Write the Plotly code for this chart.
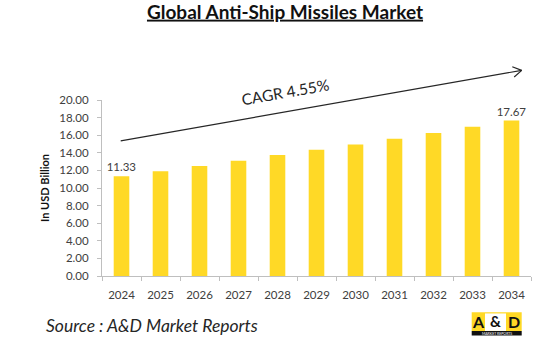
import plotly.graph_objects as go

years = ["2024", "2025", "2026", "2027", "2028", "2029", "2030", "2031", "2032", "2033", "2034"]
values = [11.33, 11.9, 12.5, 13.1, 13.75, 14.35, 14.95, 15.6, 16.25, 16.95, 17.67]
labels = ["11.33", "", "", "", "", "", "", "", "", "", "17.67"]
y_ticks = [0, 2, 4, 6, 8, 10, 12, 14, 16, 18, 20]
y_tick_text = ["%.2f" % v for v in y_ticks]

W, H = 550, 355
PL, PR, PT, PB = 102, 531, 99.7, 276   # plot area in pixels
L, R, T, B = PL, W - PR, PT, H - PB
PW, PH = W - L - R, H - T - B

def px(x):
    return (x - L) / PW

def py(y):
    return (H - B - y) / PH

FONT = "Lato"
AXIS_COL = "#bfbfbf"
TXT = "#404040"

fig = go.Figure(go.Bar(
    x=years, y=values, text=labels, textposition="outside", constraintext="none",
    textfont=dict(family=FONT, size=11.5, color=TXT),
    marker=dict(color="#FFD926", line=dict(width=0)),
    cliponaxis=False,
))

shapes = []
# CAGR arrow
x0, y0, x1, y1 = 120.7, 140.7, 521.7, 70.0
shapes.append(dict(type="line", xref="paper", yref="paper", x0=px(x0), y0=py(y0), x1=px(x1), y1=py(y1),
                   line=dict(color="#262626", width=1.2)))
for ax_, ay_ in [(512.3, 66.4), (514.2, 76.6)]:
    shapes.append(dict(type="line", xref="paper", yref="paper", x0=px(ax_), y0=py(ay_), x1=px(x1), y1=py(y1),
                       line=dict(color="#262626", width=1.2)))
# logo
shapes.append(dict(type="rect", xref="paper", yref="paper", x0=px(471.7), x1=px(521.7), y0=py(331), y1=py(312.3),
                   fillcolor="#FFD926", line=dict(width=0), layer="above"))
shapes.append(dict(type="rect", xref="paper", yref="paper", x0=px(485), x1=px(506), y0=py(331), y1=py(313.5),
                   fillcolor="#ffffff", line=dict(width=0), layer="above"))
shapes.append(dict(type="rect", xref="paper", yref="paper", x0=px(471.7), x1=px(521.7), y0=py(335.5), y1=py(331),
                   fillcolor="#111111", line=dict(width=0), layer="above"))

annotations = [
    dict(text="CAGR 4.55%", xref="paper", yref="paper", x=px(285), y=py(92), showarrow=False,
         xanchor="center", yanchor="middle",
         textangle=-10, font=dict(family=FONT, size=15.5, color="#262626")),
    dict(text="<i>Source : A&D Market Reports</i>", xref="paper", yref="paper", x=px(44), y=py(326),
         xanchor="left", yanchor="middle", showarrow=False,
         font=dict(family=FONT, size=17.5, color="#262626")),
    dict(text="<b>A</b>", xref="paper", yref="paper", x=px(478.3), y=py(321.5), showarrow=False,
         xanchor="center", yanchor="middle", font=dict(family=FONT, size=16, color="#111111")),
    dict(text="<b>&</b>", xref="paper", yref="paper", x=px(495.5), y=py(321.5), showarrow=False,
         xanchor="center", yanchor="middle", font=dict(family=FONT, size=15, color="#111111")),
    dict(text="<b>D</b>", xref="paper", yref="paper", x=px(514), y=py(321.5), showarrow=False,
         xanchor="center", yanchor="middle", font=dict(family=FONT, size=16, color="#111111")),
    dict(text="MARKET REPORTS", xref="paper", yref="paper", x=px(496.7), y=py(333.6), showarrow=False,
         xanchor="center", yanchor="middle", font=dict(family=FONT, size=3.5, color="#ffffff")),
]

fig.update_layout(
    width=W, height=H,
    margin=dict(l=L, r=R, t=T, b=B, autoexpand=False),
    paper_bgcolor="white", plot_bgcolor="white",
    showlegend=False,
    bargap=0.6,
    title=dict(text="<b><u>Global Anti-Ship Missiles Market</u></b>", x=px(285), xref="paper", xanchor="center",
               y=1 - 12 / H, yanchor="middle", yref="container",
               font=dict(family=FONT, size=19, color="#111111")),
    xaxis=dict(type="category", showline=True, linecolor=AXIS_COL, linewidth=1, automargin=False,
               ticks="outside", tickson="boundaries", ticklen=4, tickcolor=AXIS_COL, ticklabelstandoff=8,
               tickfont=dict(family=FONT, size=11.5, color=TXT), showgrid=False),
    yaxis=dict(range=[0, 20], tickvals=y_ticks, ticktext=y_tick_text, showline=True, automargin=False,
               linecolor=AXIS_COL, linewidth=1, ticks="outside", ticklen=4, tickcolor=AXIS_COL,
               ticklabelstandoff=6,
               tickfont=dict(family=FONT, size=11.5, color=TXT), showgrid=False, zeroline=False,
               title=dict(text="<b>In USD Billion</b>", standoff=7,
                          font=dict(family=FONT, size=11, color="#111111"))),
    shapes=shapes,
    annotations=annotations,
)

fig.write_html("out.html", config={"displayModeBar": False},
               post_script="document.body.style.margin='0';")
